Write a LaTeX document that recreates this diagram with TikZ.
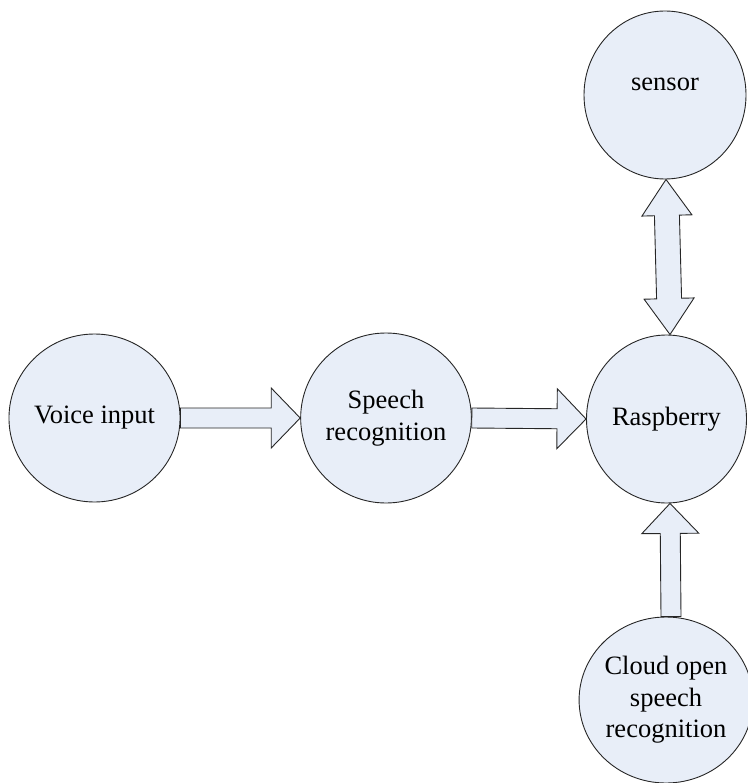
\documentclass[tikz,border=0pt]{standalone}
\usepackage{fontspec}
\setmainfont{Liberation Serif}
\usetikzlibrary{calc,shapes.geometric}
\definecolor{bubble}{RGB}{232,238,248}
\tikzset{
  bub/.style={ellipse,draw=black!85,fill=bubble,line width=0.9pt,inner sep=0pt,
    align=center,font=\fontsize{26.5pt}{31.5pt}\selectfont},
  arrowbox/.style={draw=black!85,fill=bubble,line width=0.9pt,line join=miter},
}
% single fat arrow: from, to, shaft half, head half, head length
\newcommand\fatarrow[5]{%
  \coordinate (fa-h) at ($(#2)!#5!(#1)$);
  \draw[arrowbox] ($(#1)!#3!90:(#2)$) -- ($(fa-h)!#3!-90:(#1)$) -- ($(fa-h)!#4!-90:(#1)$)
    -- (#2) -- ($(fa-h)!#4!90:(#1)$) -- ($(fa-h)!#3!90:(#1)$) -- ($(#1)!#3!-90:(#2)$) -- cycle;}
% double fat arrow
\newcommand\fatdarrow[5]{%
  \coordinate (fd-a) at ($(#1)!#5!(#2)$);
  \coordinate (fd-b) at ($(#2)!#5!(#1)$);
  \draw[arrowbox] (#1) -- ($(fd-a)!#4!90:(#2)$) -- ($(fd-a)!#3!90:(#2)$)
    -- ($(fd-b)!#3!-90:(#1)$) -- ($(fd-b)!#4!-90:(#1)$) -- (#2)
    -- ($(fd-b)!#4!90:(#1)$) -- ($(fd-b)!#3!90:(#1)$)
    -- ($(fd-a)!#3!-90:(#2)$) -- ($(fd-a)!#4!-90:(#2)$) -- cycle;}
\begin{document}
\begin{tikzpicture}[x=1pt,y=-1pt]
\useasboundingbox (0,0) rectangle (747,783);
\node[bub,minimum width=167pt,minimum height=168pt] (voice) at (94.5,418) {Voice input};
\node[bub,minimum width=166pt,minimum height=170pt] (speech) at (386,418) {Speech\\recognition};
\node[bub,minimum width=160pt,minimum height=168pt] (rasp) at (666.5,419) {Raspberry};
\node[bub,minimum width=162pt,minimum height=168pt] (sensor) at (665,95) {\raisebox{22pt}{sensor}};
\node[bub,minimum width=162pt,minimum height=166pt] (cloud) at (666,700) {Cloud open\\speech\\recognition};
\coordinate (rn) at ([xshift=3.5pt]rasp.north);
\coordinate (rs) at ([xshift=3.5pt]rasp.south);
\coordinate (cn) at ([xshift=5pt]cloud.north);
\coordinate (ss) at ([xshift=1pt]sensor.south);
\fatarrow{voice.east}{speech.west}{10pt}{30pt}{29pt}
\fatarrow{speech.east}{rasp.west}{10pt}{30pt}{29pt}
\fatdarrow{ss}{rn}{12.5pt}{25pt}{36pt}
\fatarrow{cn}{rs}{10pt}{28.5pt}{30pt}
\end{tikzpicture}
\end{document}
